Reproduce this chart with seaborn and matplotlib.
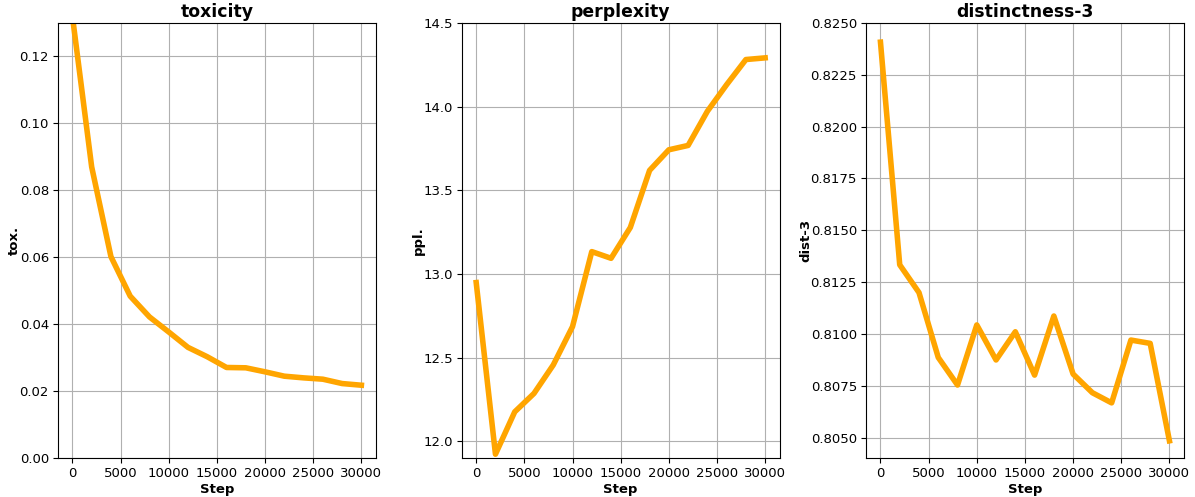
import numpy as np
import pandas as pd
import matplotlib
matplotlib.use("Agg")
import matplotlib.pyplot as plt
import matplotlib.ticker as mticker
import seaborn as sns

# Training steps
steps = [0, 2000, 4000, 6000, 8000, 10000, 12000, 14000, 16000,
         18000, 20000, 22000, 24000, 26000, 28000, 30000]

# Metrics
toxicity = [0.132, 0.0870, 0.0602, 0.0484, 0.0422, 0.0377, 0.0331, 0.0303,
            0.0271, 0.0270, 0.0258, 0.0245, 0.0240, 0.0236, 0.0223, 0.0218]
perplexity = [12.949, 11.924, 12.177, 12.287, 12.457, 12.686, 13.134, 13.094,
              13.278, 13.619, 13.742, 13.768, 13.972, 14.131, 14.281, 14.291]
dist3 = [0.82407, 0.81333, 0.81199, 0.80886, 0.80753, 0.81043, 0.80874, 0.81010,
         0.80801, 0.81086, 0.80806, 0.80716, 0.80667, 0.80970, 0.80954, 0.80484]

df = pd.DataFrame({"Step": steps, "tox.": toxicity, "ppl.": perplexity, "dist-3": dist3})

panels = [
    ("toxicity", "tox.", (0.0, 0.13)),
    ("perplexity", "ppl.", (11.9, 14.5)),
    ("distinctness-3", "dist-3", (0.8040, 0.8250)),
]

plt.rcParams["font.size"] = 9.5

fig = plt.figure(figsize=(11.95, 4.97), dpi=100)
lefts = [0.0485, 0.3864, 0.7247]
width = 0.2660
for (title, col, ylim), left in zip(panels, lefts):
    ax = fig.add_axes([left, 0.078, width, 0.876])
    sns.lineplot(data=df, x="Step", y=col, ax=ax, color="orange", linewidth=4)
    ax.set_ylim(*ylim)
    ax.set_xticks([0, 5000, 10000, 15000, 20000, 25000, 30000])
    ax.tick_params(labelsize=9.5, pad=3)
    ax.grid(True, color="#b0b0b0", linewidth=0.8)
    ax.set_axisbelow(True)
    ax.set_title(title, fontsize=12.4, fontweight="bold", pad=4)
    ax.set_xlabel("Step", fontsize=9.5, fontweight="bold", labelpad=2)
    ax.set_ylabel(col, fontsize=9.5, fontweight="bold", labelpad=-1)
    if col == "dist-3":
        ax.yaxis.set_major_formatter(mticker.FormatStrFormatter("%.4f"))

fig.savefig("out.png", dpi=100)
